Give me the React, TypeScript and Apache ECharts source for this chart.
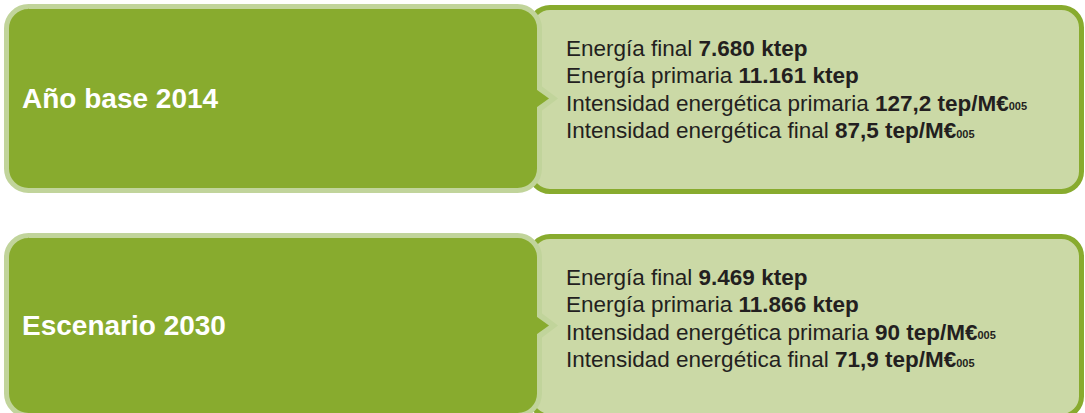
import React, { useEffect, useRef } from "react";
import * as echarts from "echarts";

const panelTitles = ["Año base 2014", "Escenario 2030"];
const lineLabels = [
  "Energía final",
  "Energía primaria",
  "Intensidad energética primaria",
  "Intensidad energética final",
];
const lineUnits = ["ktep", "ktep", "tep/M€", "tep/M€"];
const lineUnitSubs = ["", "", "005", "005"];
const energiaFinal = ["7.680", "9.469"];
const energiaPrimaria = ["11.161", "11.866"];
const intensidadPrimaria = ["127,2", "90"];
const intensidadFinal = ["87,5", "71,9"];

const DARK = "#88ab2e";
const LIGHT = "#c1d49b";
const PALE = "#cbd9a6";
const TEXT = "#231f20";
const FONT = "'Liberation Sans', Arial, Helvetica, sans-serif";

export default function App() {
  const ref = useRef<HTMLDivElement>(null);
  useEffect(() => {
    document.body.style.margin = "0";
    const chart = echarts.init(ref.current!, null, { renderer: "svg" });
    const panelTops = [4, 233];
    const panelHeights = [189, 185];
    const elements: any[] = [];
    panelTitles.forEach((title, p) => {
      const top = panelTops[p];
      const h = panelHeights[p];
      const cy = top + h / 2;
      elements.push({
        type: "rect",
        shape: { x: 530, y: top + 3.5, width: 551.5, height: h - 5, r: 20 },
        style: { fill: PALE, stroke: DARK, lineWidth: 5 },
      });
      elements.push({
        type: "rect",
        shape: { x: 6.5, y: top + 2.5, width: 533, height: h - 5, r: 22 },
        style: { fill: DARK, stroke: LIGHT, lineWidth: 5 },
      });
      elements.push({
        type: "polygon",
        shape: { points: [[538, cy - 15], [558, cy], [538, cy + 15]] },
        style: { fill: LIGHT },
      });
      elements.push({
        type: "polygon",
        shape: { points: [[535, cy - 10], [549, cy], [535, cy + 10]] },
        style: { fill: DARK },
      });
      elements.push({
        type: "text",
        x: 22,
        y: cy,
        style: {
          text: title,
          fill: "#ffffff",
          font: `bold 28px ${FONT}`,
          verticalAlign: "middle",
          align: "left",
        },
      });
      const values = [energiaFinal[p], energiaPrimaria[p], intensidadPrimaria[p], intensidadFinal[p]];
      lineLabels.forEach((label, i) => {
        const sub = lineUnitSubs[i] ? `{s|${lineUnitSubs[i]}}` : "";
        elements.push({
          type: "text",
          x: 566,
          y: top + 43 + i * 27.4,
          style: {
            text: `{r|${label} }{b|${values[i]} ${lineUnits[i]}}${sub}`,
            verticalAlign: "middle",
            align: "left",
            rich: {
              r: { fontFamily: "Liberation Sans", fontSize: 22.5, fill: TEXT, verticalAlign: "bottom", lineHeight: 26 },
              b: { fontFamily: "Liberation Sans", fontSize: 22.5, fontWeight: "bold", fill: TEXT, verticalAlign: "bottom", lineHeight: 26 },
              s: { fontFamily: "Liberation Sans", fontSize: 11, fontWeight: "bold", fill: TEXT, verticalAlign: "bottom", lineHeight: 26, padding: [0, 0, 3, 0] },
            },
          },
        });
      });
    });
    chart.setOption({ animation: false, graphic: { elements } });
    return () => chart.dispose();
  }, []);
  return <div ref={ref} style={{ width: 1085, height: 413 }} />;
}
